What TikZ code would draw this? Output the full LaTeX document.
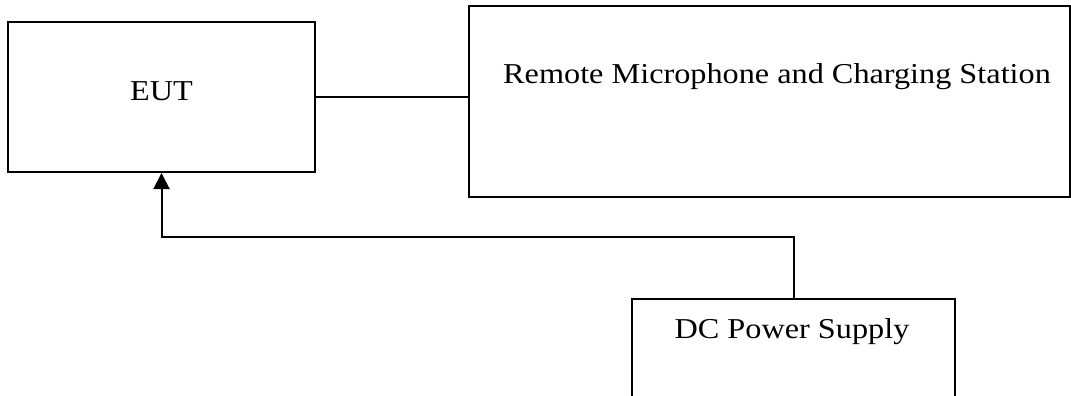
\documentclass[tikz,border=0pt]{standalone}
\usepackage{fontspec}
\newfontfamily\labfont[FakeStretch=1.12]{Liberation Serif}
\usetikzlibrary{arrows.meta}
\begin{document}
\begin{tikzpicture}[x=1pt,y=-1pt,
  box/.style={draw=black, line width=2pt, rectangle, inner sep=0pt, fill=none},
  lbl/.style={font=\labfont\fontsize{28.8}{32}\selectfont, inner sep=0pt},
  conn/.style={draw=black, line width=2pt},
  arr/.style={conn, -{Triangle[length=16pt,width=16pt]}}]
\clip (0,0) rectangle (1071,396);
\fill[white] (0,0) rectangle (1071,396);
\node[box, minimum width=307pt, minimum height=150pt] (eut) at (161.5,97) {};
\node[box, minimum width=601pt, minimum height=191pt] (remote) at (769.5,101.5) {};
\node[box, minimum width=323pt, minimum height=131pt] (dc) at (793.5,364.5) {};
\node[lbl, anchor=base] (euttxt) at (161.5,100) {EUT};
\node[lbl, anchor=base west] (remtxt) at (503,84) {Remote Microphone and Charging Station};
\node[lbl, anchor=base] (dctxt) at (792,338) {DC Power Supply};
\draw[conn] (eut.east) -- (remote.west |- eut.east);
\coordinate (bend) at (793.5,237);
\draw[arr] (dc.north) -- (bend) -| (eut.south);
\end{tikzpicture}
\end{document}
